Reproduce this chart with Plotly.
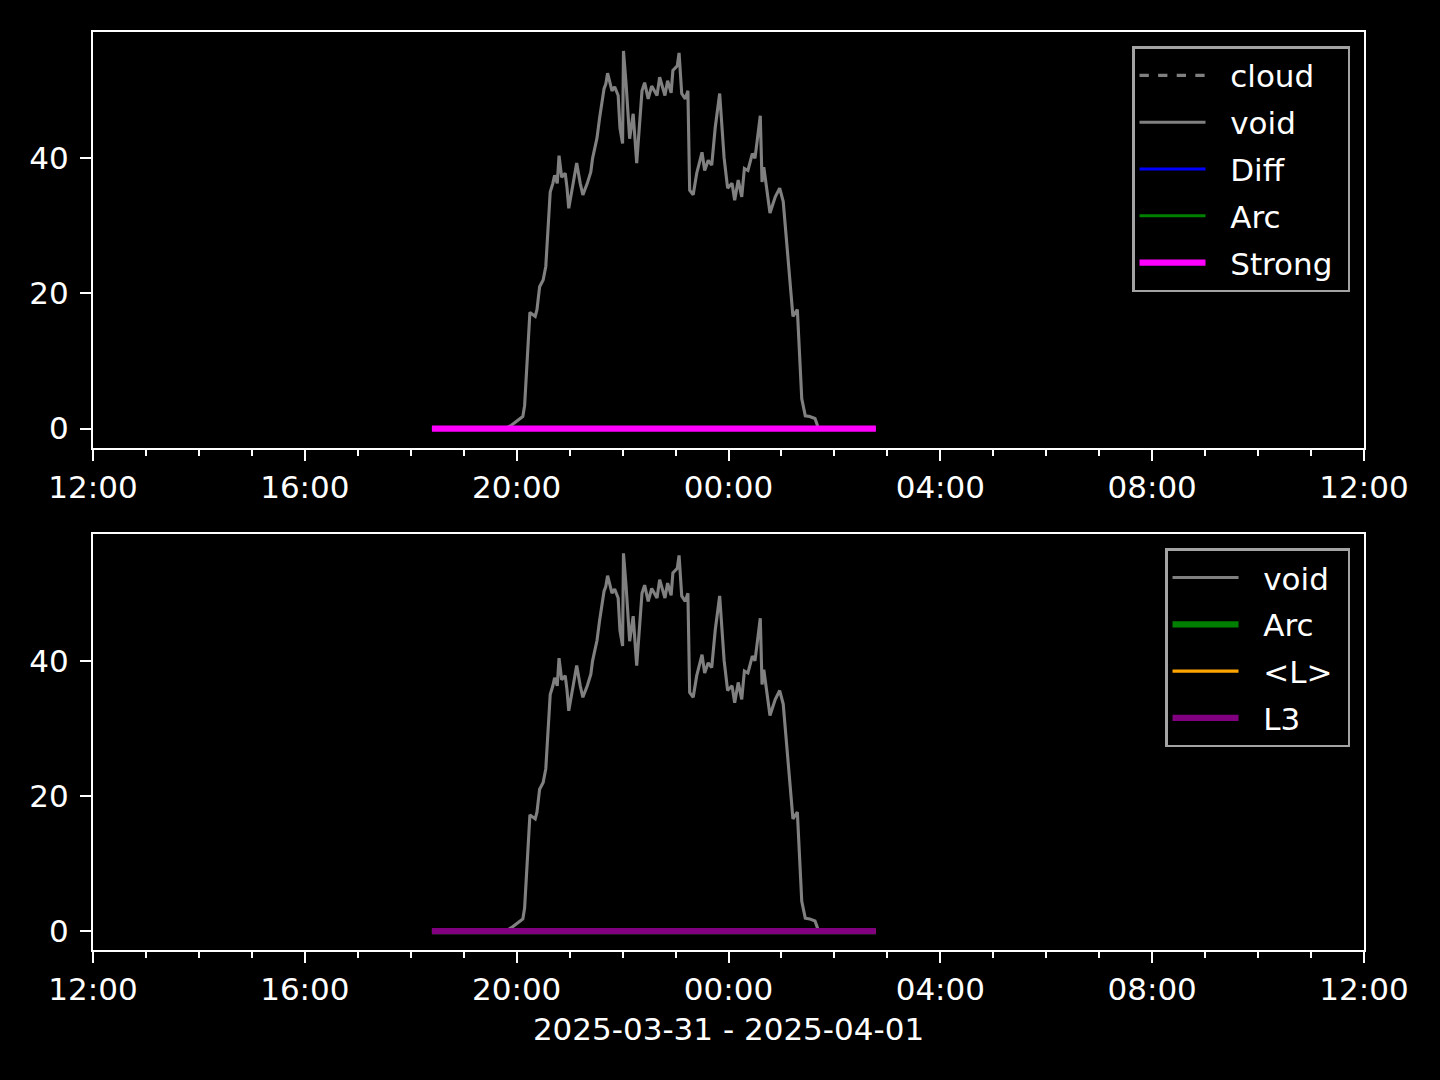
import plotly.graph_objects as go
from plotly.subplots import make_subplots

# ---- data ----
void_times = ["19:47", "19:54", "20:04", "20:07", "20:09", "20:15", "20:21", "20:23", "20:26",
              "20:30", "20:33", "20:38", "20:41", "20:43", "20:46", "20:48", "20:51", "20:55", "20:57",
              "20:59", "21:04", "21:08", "21:12", "21:15", "21:20", "21:24", "21:26", "21:31", "21:34",
              "21:38", "21:39", "21:41", "21:43", "21:48", "21:51", "21:55", "21:57", "22:00", "22:01",
              "22:04", "22:08", "22:12", "22:16", "22:22", "22:25", "22:29", "22:33", "22:39", "22:42",
              "22:48", "22:51", "22:55", "22:57", "23:02", "23:04", "23:07", "23:11", "23:14", "23:16",
              "23:20", "23:24", "23:30", "23:33", "23:37", "23:41", "23:45", "23:50", "23:55", "23:59",
              "00:04", "00:07", "00:11", "00:15", "00:18", "00:22", "00:27", "00:30", "00:36", "00:38",
              "00:40", "00:47", "00:53", "00:58", "01:02", "01:13", "01:18", "01:21", "01:23", "01:27",
              "01:32", "01:38", "01:41"]
void_values = [0.0, 0.5, 1.5, 1.8, 3.4, 17.2, 16.6, 17.6, 21.0,
               22.0, 24.0, 35.0, 36.3, 37.5, 36.3, 40.4, 37.2, 37.8, 35.7,
               32.6, 36.3, 39.3, 36.3, 34.6, 36.3, 38.0, 40.0, 43.0, 46.0,
               49.0, 50.3, 51.0, 52.6, 50.0, 50.6, 49.3, 44.5, 42.2, 55.9,
               51.0, 42.9, 46.6, 39.3, 50.0, 51.2, 48.8, 50.7, 49.3, 52.0,
               49.3, 51.5, 49.7, 53.0, 53.7, 55.6, 49.6, 48.8, 50.0, 35.3,
               34.6, 37.8, 40.9, 38.2, 39.7, 39.0, 44.6, 49.6, 40.1, 35.6,
               36.3, 33.8, 36.8, 34.3, 38.5, 38.2, 40.7, 40.0, 46.3, 36.5,
               38.7, 31.9, 34.3, 35.6, 33.6, 16.6, 17.6, 8.4, 4.4, 1.9,
               1.8, 1.5, 0.4]

span_times = ["18:24", "02:47"]
cloud_values = [0.0, 0.0]
diff_values = [0.0, 0.0]
arc_values = [0.0, 0.0]
strong_values = [0.0, 0.0]
meanL_values = [0.0, 0.0]
l3_values = [0.0, 0.0]

x_start = "2025-03-31 12:00"
x_end = "2025-04-01 12:00"
x_title = "2025-03-31 - 2025-04-01"


def to_dt(hm):
    h = int(hm.split(":")[0])
    day = "2025-03-31" if h >= 12 else "2025-04-01"
    return f"{day} {hm}"


vx = [to_dt(t) for t in void_times]
sx = [to_dt(t) for t in span_times]

GRAY = "#808080"
FONT = "DejaVu Sans"
FS = 31
NB = "\u00a0"

fig = make_subplots(rows=2, cols=1, vertical_spacing=0.0947)

lw1 = 3.1
lw2 = 6.25


def add(row, x, y, name, color, width, dash="solid", legend="legend"):
    fig.add_trace(go.Scatter(x=x, y=y, mode="lines", name=NB * 2 + name + NB,
                             line=dict(color=color, width=width, dash=dash),
                             legendgroup=f"{legend}_{name}", legend=legend,
                             hoverinfo="skip"),
                  row=row, col=1)


# top panel
add(1, sx, cloud_values, "cloud", GRAY, lw1, "dash", "legend")
add(1, vx, void_values, "void", GRAY, lw1, "solid", "legend")
add(1, sx, diff_values, "Diff", "#0000ff", lw1, "solid", "legend")
add(1, sx, arc_values, "Arc", "#008000", lw1, "solid", "legend")
add(1, sx, strong_values, "Strong", "#ff00ff", lw2, "solid", "legend")

# bottom panel
add(2, vx, void_values, "void", GRAY, lw1, "solid", "legend2")
add(2, sx, arc_values, "Arc", "#008000", lw2, "solid", "legend2")
add(2, sx, meanL_values, "<L>", "#ffa500", lw1, "solid", "legend2")
add(2, sx, l3_values, "L3", "#800080", lw2, "solid", "legend2")

axis_common = dict(
    showline=True, linecolor="white", linewidth=2, mirror=True,
    ticks="outside", ticklen=11, tickwidth=2, tickcolor="white",
    showgrid=False, zeroline=False,
    tickfont=dict(family=FONT, size=FS, color="white"),
)

for r in (1, 2):
    fig.update_xaxes(type="date", range=[x_start, x_end], tickformat="%H:%M",
                     dtick=4 * 3600000, tick0="2025-03-31 12:00",
                     minor=dict(dtick=3600000, ticklen=6, tickwidth=2, tickcolor="white", ticks="outside"),
                     row=r, col=1, **axis_common)
    fig.update_yaxes(range=[-2.8, 58.7], tickvals=[0, 20, 40], ticklabelstandoff=5,
                     row=r, col=1, **axis_common)

fig.update_xaxes(title=dict(text=x_title, font=dict(family=FONT, size=FS, color="white"), standoff=12),
                 row=2, col=1)

leg_common = dict(xanchor="right", yanchor="top",
                  bgcolor="black", bordercolor="#a3a3a3", borderwidth=2.5,
                  font=dict(family=FONT, size=FS, color="white"),
                  tracegroupgap=3.5, itemwidth=66)

fig.update_layout(
    width=1440, height=1080,
    margin=dict(l=93, r=76, t=32, b=130),
    paper_bgcolor="black", plot_bgcolor="black",
    font=dict(family=FONT, size=FS, color="white"),
    legend=dict(x=0.989, y=0.9845, **leg_common),
    legend2=dict(x=0.989, y=0.4375, **leg_common),
    showlegend=True,
    hovermode=False,
)

fig.write_html("out.html", config={"displayModeBar": False},
               post_script="document.body.style.margin='0';document.body.style.background='black';")
